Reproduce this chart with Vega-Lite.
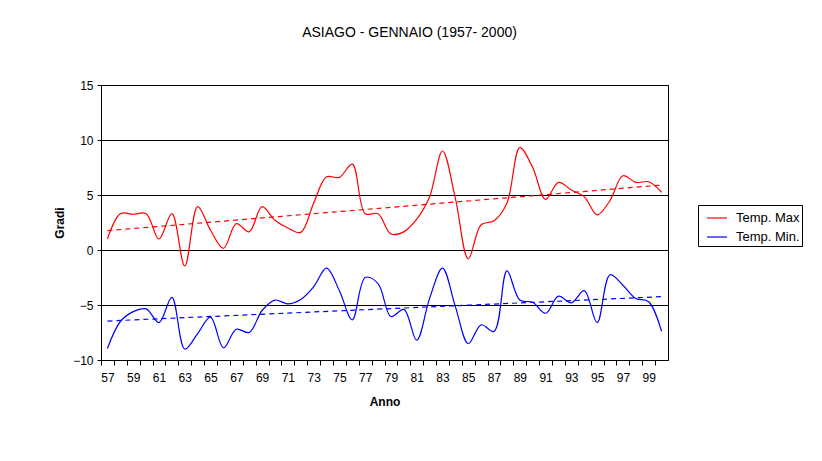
{
  "$schema": "https://vega.github.io/schema/vega-lite/v6.json",
  "width": 567,
  "height": 275,
  "autosize": {"type": "none"},
  "padding": {"left": 101, "top": 85, "right": 154, "bottom": 101},
  "background": "white",
  "title": {
    "text": "ASIAGO - GENNAIO (1957- 2000)",
    "font": "Liberation Sans",
    "fontSize": 14,
    "fontWeight": "normal",
    "color": "black",
    "anchor": "middle",
    "dx": 25,
    "offset": 39
  },
  "data": {
    "values": [
      {"anno": 1957, "serie": "Temp. Max", "t": 1.0},
      {"anno": 1958, "serie": "Temp. Max", "t": 3.3},
      {"anno": 1959, "serie": "Temp. Max", "t": 3.25},
      {"anno": 1960, "serie": "Temp. Max", "t": 3.3},
      {"anno": 1961, "serie": "Temp. Max", "t": 1.0},
      {"anno": 1962, "serie": "Temp. Max", "t": 3.3},
      {"anno": 1963, "serie": "Temp. Max", "t": -1.45},
      {"anno": 1964, "serie": "Temp. Max", "t": 3.95},
      {"anno": 1965, "serie": "Temp. Max", "t": 1.8},
      {"anno": 1966, "serie": "Temp. Max", "t": 0.15},
      {"anno": 1967, "serie": "Temp. Max", "t": 2.4},
      {"anno": 1968, "serie": "Temp. Max", "t": 1.65},
      {"anno": 1969, "serie": "Temp. Max", "t": 3.95},
      {"anno": 1970, "serie": "Temp. Max", "t": 2.7},
      {"anno": 1971, "serie": "Temp. Max", "t": 2.0},
      {"anno": 1972, "serie": "Temp. Max", "t": 1.6},
      {"anno": 1973, "serie": "Temp. Max", "t": 4.25},
      {"anno": 1974, "serie": "Temp. Max", "t": 6.65},
      {"anno": 1975, "serie": "Temp. Max", "t": 6.6},
      {"anno": 1976, "serie": "Temp. Max", "t": 7.8},
      {"anno": 1977, "serie": "Temp. Max", "t": 3.3},
      {"anno": 1978, "serie": "Temp. Max", "t": 3.3},
      {"anno": 1979, "serie": "Temp. Max", "t": 1.45},
      {"anno": 1980, "serie": "Temp. Max", "t": 1.65},
      {"anno": 1981, "serie": "Temp. Max", "t": 2.8},
      {"anno": 1982, "serie": "Temp. Max", "t": 4.85},
      {"anno": 1983, "serie": "Temp. Max", "t": 9.0},
      {"anno": 1984, "serie": "Temp. Max", "t": 4.7},
      {"anno": 1985, "serie": "Temp. Max", "t": -0.8},
      {"anno": 1986, "serie": "Temp. Max", "t": 2.3},
      {"anno": 1987, "serie": "Temp. Max", "t": 2.65},
      {"anno": 1988, "serie": "Temp. Max", "t": 4.25},
      {"anno": 1989, "serie": "Temp. Max", "t": 9.3},
      {"anno": 1990, "serie": "Temp. Max", "t": 7.5},
      {"anno": 1991, "serie": "Temp. Max", "t": 4.6},
      {"anno": 1992, "serie": "Temp. Max", "t": 6.15},
      {"anno": 1993, "serie": "Temp. Max", "t": 5.45},
      {"anno": 1994, "serie": "Temp. Max", "t": 4.85},
      {"anno": 1995, "serie": "Temp. Max", "t": 3.2},
      {"anno": 1996, "serie": "Temp. Max", "t": 4.5},
      {"anno": 1997, "serie": "Temp. Max", "t": 6.75},
      {"anno": 1998, "serie": "Temp. Max", "t": 6.15},
      {"anno": 1999, "serie": "Temp. Max", "t": 6.2},
      {"anno": 2000, "serie": "Temp. Max", "t": 5.25},
      {"anno": 1957, "serie": "Temp. Min.", "t": -8.95},
      {"anno": 1958, "serie": "Temp. Min.", "t": -6.5},
      {"anno": 1959, "serie": "Temp. Min.", "t": -5.6},
      {"anno": 1960, "serie": "Temp. Min.", "t": -5.35},
      {"anno": 1961, "serie": "Temp. Min.", "t": -6.6},
      {"anno": 1962, "serie": "Temp. Min.", "t": -4.3},
      {"anno": 1963, "serie": "Temp. Min.", "t": -9.0},
      {"anno": 1964, "serie": "Temp. Min.", "t": -7.6},
      {"anno": 1965, "serie": "Temp. Min.", "t": -6.1},
      {"anno": 1966, "serie": "Temp. Min.", "t": -8.9},
      {"anno": 1967, "serie": "Temp. Min.", "t": -7.2},
      {"anno": 1968, "serie": "Temp. Min.", "t": -7.5},
      {"anno": 1969, "serie": "Temp. Min.", "t": -5.5},
      {"anno": 1970, "serie": "Temp. Min.", "t": -4.55},
      {"anno": 1971, "serie": "Temp. Min.", "t": -4.9},
      {"anno": 1972, "serie": "Temp. Min.", "t": -4.5},
      {"anno": 1973, "serie": "Temp. Min.", "t": -3.35},
      {"anno": 1974, "serie": "Temp. Min.", "t": -1.65},
      {"anno": 1975, "serie": "Temp. Min.", "t": -3.7},
      {"anno": 1976, "serie": "Temp. Min.", "t": -6.35},
      {"anno": 1977, "serie": "Temp. Min.", "t": -2.5},
      {"anno": 1978, "serie": "Temp. Min.", "t": -3.05},
      {"anno": 1979, "serie": "Temp. Min.", "t": -6.05},
      {"anno": 1980, "serie": "Temp. Min.", "t": -5.4},
      {"anno": 1981, "serie": "Temp. Min.", "t": -8.2},
      {"anno": 1982, "serie": "Temp. Min.", "t": -4.4},
      {"anno": 1983, "serie": "Temp. Min.", "t": -1.65},
      {"anno": 1984, "serie": "Temp. Min.", "t": -5.15},
      {"anno": 1985, "serie": "Temp. Min.", "t": -8.5},
      {"anno": 1986, "serie": "Temp. Min.", "t": -6.8},
      {"anno": 1987, "serie": "Temp. Min.", "t": -7.4},
      {"anno": 1988, "serie": "Temp. Min.", "t": -1.9},
      {"anno": 1989, "serie": "Temp. Min.", "t": -4.55},
      {"anno": 1990, "serie": "Temp. Min.", "t": -4.75},
      {"anno": 1991, "serie": "Temp. Min.", "t": -5.75},
      {"anno": 1992, "serie": "Temp. Min.", "t": -4.2},
      {"anno": 1993, "serie": "Temp. Min.", "t": -4.8},
      {"anno": 1994, "serie": "Temp. Min.", "t": -3.7},
      {"anno": 1995, "serie": "Temp. Min.", "t": -6.6},
      {"anno": 1996, "serie": "Temp. Min.", "t": -2.25},
      {"anno": 1997, "serie": "Temp. Min.", "t": -3.2},
      {"anno": 1998, "serie": "Temp. Min.", "t": -4.4},
      {"anno": 1999, "serie": "Temp. Min.", "t": -4.7},
      {"anno": 2000, "serie": "Temp. Min.", "t": -7.4}
    ]
  },
  "encoding": {
    "x": {
      "field": "anno",
      "type": "quantitative",
      "scale": {"domain": [1956.5, 2000.5], "nice": false, "zero": false},
      "axis": {
        "title": "Anno",
        "values": [1957,1958,1959,1960,1961,1962,1963,1964,1965,1966,1967,1968,1969,1970,1971,1972,1973,1974,1975,1976,1977,1978,1979,1980,1981,1982,1983,1984,1985,1986,1987,1988,1989,1990,1991,1992,1993,1994,1995,1996,1997,1998,1999,2000],
        "labelExpr": "datum.value % 2 == 1 ? format(datum.value % 100, '02') : ''",
        "tickOffset": -6.44,
        "labelOffset": 6.44,
        "grid": false,
        "tickSize": 5,
        "labelPadding": 7,
        "titlePadding": 13,
        "labelOverlap": false
      }
    },
    "y": {
      "field": "t",
      "type": "quantitative",
      "scale": {"domain": [-10, 15], "nice": false, "zero": false},
      "axis": {
        "title": "Gradi",
        "values": [-10, -5, 0, 5, 10, 15],
        "grid": true,
        "tickSize": 4,
        "labelPadding": 4,
        "titlePadding": 6
      }
    },
    "color": {
      "field": "serie",
      "type": "nominal",
      "scale": {"domain": ["Temp. Max", "Temp. Min."], "range": ["#FF0000", "#0000FF"]},
      "legend": {
        "title": null,
        "orient": "none",
        "legendX": 597,
        "legendY": 120,
        "strokeColor": "black",
        "fillColor": "white",
        "padding": 2,
        "symbolType": "stroke",
        "symbolSize": 400,
        "symbolOffset": 6,
        "symbolStrokeWidth": 1.2,
        "labelFont": "Liberation Sans",
        "labelFontSize": 13,
        "labelColor": "black",
        "rowPadding": 1,
        "labelOffset": 8
      }
    }
  },
  "layer": [
    {
      "mark": {"type": "line", "interpolate": "catmull-rom", "strokeWidth": 1.2}
    },
    {
      "transform": [
        {"regression": "t", "on": "anno", "groupby": ["serie"], "method": "linear", "extent": [1957, 2000]}
      ],
      "mark": {"type": "line", "strokeDash": [5, 4], "strokeWidth": 1.2}
    }
  ],
  "config": {
    "font": "Liberation Sans",
    "view": {"stroke": "black", "strokeWidth": 1},
    "axis": {
      "domainColor": "black",
      "tickColor": "black",
      "gridColor": "black",
      "gridOpacity": 1,
      "gridWidth": 1,
      "labelFont": "Liberation Sans",
      "labelFontSize": 12,
      "labelColor": "black",
      "titleFont": "Liberation Sans",
      "titleFontSize": 12,
      "titleFontWeight": "bold",
      "titleColor": "black"
    }
  }
}
